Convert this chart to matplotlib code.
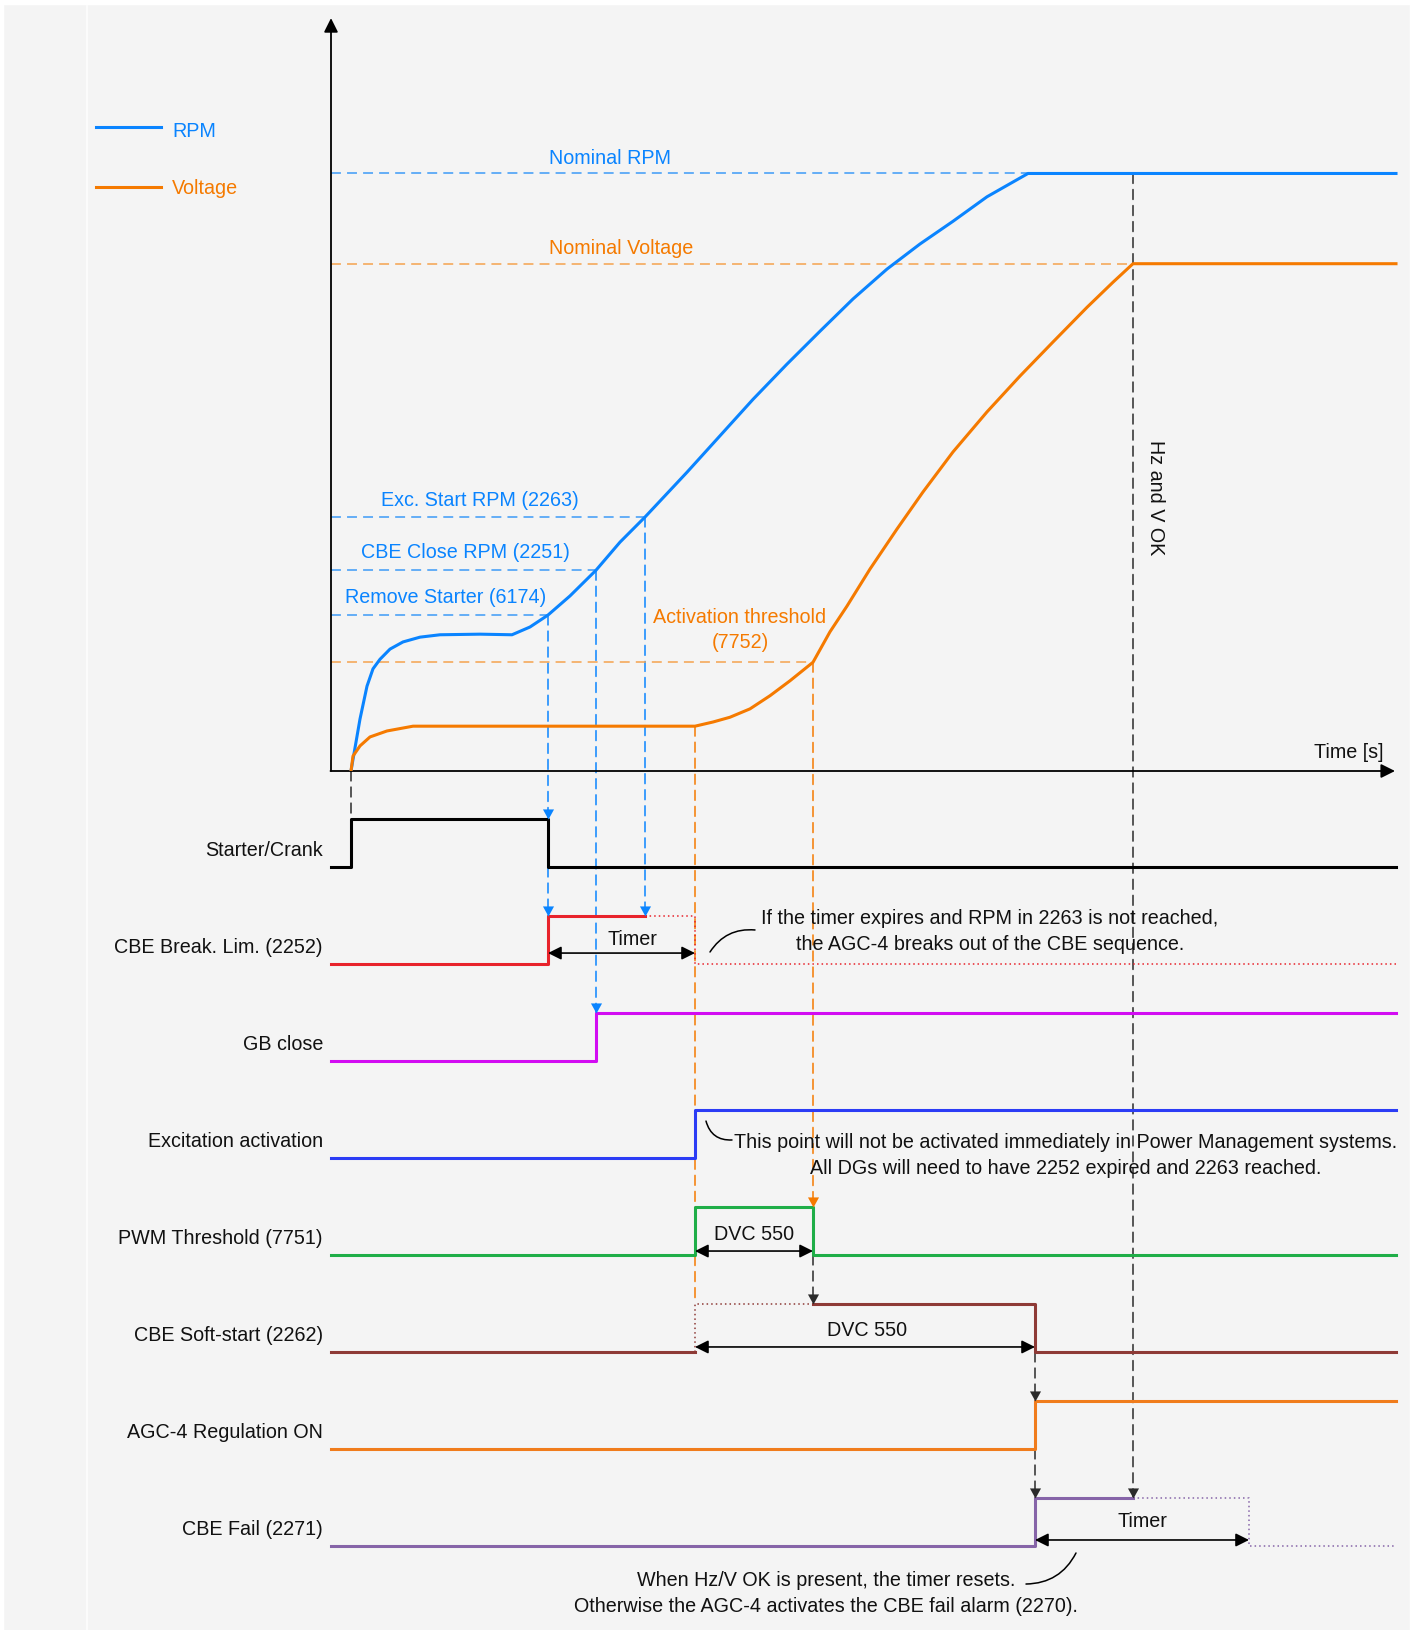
"""Engine start sequence timing diagram (CBE start)."""

import matplotlib

matplotlib.use("Agg")

import matplotlib.pyplot as plt
from matplotlib.lines import Line2D
from matplotlib.patches import ConnectionPatch, Rectangle
from matplotlib.path import Path

plt.rcParams["font.family"] = ["Liberation Sans", "DejaVu Sans"]

# event times on the schematic time axis
T_AXIS = -2.0
T_START = 0.0
T_REMOVE_STARTER = 19.7
T_CBE_CLOSE = 24.5
T_EXC_START = 29.4
T_EXC_ON = 34.4
T_ACT_THRESHOLD = 46.2
T_RPM_NOMINAL = 67.7
T_SOFTSTART_END = 68.4
T_HZV_OK = 78.2
T_FAIL_TIMEOUT = 89.8
T_END = 104.5

# levels in the upper chart (nominal RPM = 100)
NOMINAL_RPM = 100.0
NOMINAL_VOLTAGE = 84.9
EXC_START_RPM = 42.5
CBE_CLOSE_RPM = 33.6
REMOVE_STARTER_RPM = 26.1
ACT_THRESHOLD_V = 18.2
VOLT_PLATEAU = 7.5

rpm_t = [0, 0.9, 1.6, 2.2, 2.9, 3.9, 5.2, 6.9, 8.9, 12.9, 16.1, 17.9, 19.7, 21.9,
         24.5, 26.9, 29.4, 33.6, 36.9, 40.2, 43.6, 46.9, 50.2, 53.6, 56.9, 60.2,
         63.6, 67.7, 104.5]
rpm_v = [0, 8.7, 14.2, 17.1, 18.7, 20.4, 21.6, 22.4, 22.8, 22.9, 22.8, 24.1, 26.1, 29.3,
         33.6, 38.3, 42.5, 50.0, 56.1, 62.2, 68.1, 73.6, 79.0, 84.0, 88.2, 92.0,
         96.1, 100, 100]

volt_t = [0, 0.2, 0.9, 1.9, 3.6, 6.2, 34.4, 36.2, 37.9, 39.9, 41.9, 43.9, 46.2,
          47.9, 49.6, 51.9, 54.6, 57.2, 60.2, 63.6, 66.9, 70.2, 73.6, 76.2, 78.2, 104.5]
volt_v = [0, 2.5, 4.2, 5.7, 6.7, 7.5, 7.5, 8.2, 9.0, 10.4, 12.6, 15.1, 18.2,
          23.3, 27.6, 33.8, 40.5, 46.7, 53.4, 60.1, 66.1, 71.8, 77.6, 81.8, 84.9, 84.9]

row_labels = ["Starter/Crank", "CBE Break. Lim. (2252)", "GB close",
              "Excitation activation", "PWM Threshold (7751)",
              "CBE Soft-start (2262)", "AGC-4 Regulation ON", "CBE Fail (2271)"]
row_colors = ["#000000", "#e8232b", "#d20cf2", "#2b3cf5", "#1fae48",
              "#8e3a36", "#f07c1c", "#8664a8"]

# digital signals: (times, states) drawn as steps, solid then dotted parts
solid_signals = [
    ([T_AXIS, T_START, T_REMOVE_STARTER, T_END], [0, 1, 0, 0]),
    ([T_AXIS, T_REMOVE_STARTER, T_EXC_START], [0, 1, 1]),
    ([T_AXIS, T_CBE_CLOSE, T_END], [0, 1, 1]),
    ([T_AXIS, T_EXC_ON, T_END], [0, 1, 1]),
    ([T_AXIS, T_EXC_ON, T_ACT_THRESHOLD, T_END], [0, 1, 0, 0]),
    ([T_AXIS, T_EXC_ON], [0, 0]),
    ([T_AXIS, T_SOFTSTART_END, T_END], [0, 1, 1]),
    ([T_AXIS, T_SOFTSTART_END, T_HZV_OK], [0, 1, 1]),
]
extra_solid = {5: ([T_ACT_THRESHOLD, T_SOFTSTART_END, T_END], [1, 0, 0])}
dotted_signals = {
    1: ([T_EXC_START, T_EXC_ON, T_END], [1, 0, 0]),
    5: ([T_EXC_ON, T_EXC_ON, T_ACT_THRESHOLD], [0, 1, 1]),
    7: ([T_HZV_OK, T_FAIL_TIMEOUT, T_END], [1, 0, 0]),
}

HIGH = 0.5
BLUE = "#0a84ff"
BLUE_DASH = "#3d9bf7"
ORANGE = "#f57a00"
ORANGE_DASH = "#f5a24e"
DASH = (0, (6.5, 4))
FS = 14.2
TEXT = "#111111"

ARROW_HEAD = Path([(-0.55, 1.0), (0.55, 1.0), (0.0, 0.0), (-0.55, 1.0)],
                  [Path.MOVETO, Path.LINETO, Path.LINETO, Path.CLOSEPOLY])


def row_low(i):
    return -i


def row_high(i):
    return -i + HIGH


def connector(fig, ax_from, ax_to, t, y_from, y_to, color, arrow=True):
    con = ConnectionPatch(xyA=(t, y_from), coordsA="data", axesA=ax_from,
                          xyB=(t, y_to), coordsB="data", axesB=ax_to,
                          color=color, lw=1.1, linestyle=DASH, zorder=-1)
    fig.add_artist(con)
    if arrow:
        ax_to.plot([t], [y_to], marker=ARROW_HEAD, ms=14.5, color=color,
                   mew=0, linestyle="none", zorder=5, clip_on=False)


def span_arrow(ax, t0, t1, y):
    ax.annotate("", xy=(t1, y), xytext=(t0, y),
                arrowprops=dict(arrowstyle="<|-|>", color="black", lw=1.2,
                                shrinkA=0, shrinkB=0, mutation_scale=20))


def leader(ax, a, b, rad):
    ax.annotate("", xy=b, xytext=a,
                arrowprops=dict(arrowstyle="-", color="black", lw=1.1,
                                shrinkA=0, shrinkB=0,
                                connectionstyle="arc3,rad={}".format(rad)))


def note(ax, t, y, text):
    ax.text(t, y, text, ha="center", va="baseline", multialignment="center",
            fontsize=FS, color=TEXT, linespacing=1.45)


def main():
    fig = plt.figure(figsize=(14.14, 16.31), dpi=100, facecolor="#f4f4f4")
    split = (1631 - 772) / 1631
    ax_top = fig.add_axes([0, split, 1, 1 - split])
    ax_bot = fig.add_axes([0, 0, 1, split])
    for ax in (ax_top, ax_bot):
        ax.set_xlim(-35.1, 106.3)
        ax.set_facecolor("none")
        ax.axis("off")
    ax_top.set_ylim(0, 129.2)
    ax_bot.set_ylim(-7.866, 0.99)

    # page decoration
    fig.add_artist(Line2D([87 / 1414] * 2, [0, 1 - 5 / 1631], transform=fig.transFigure,
                          color="#fbfbfb", lw=1.6, zorder=-2))
    fig.add_artist(Rectangle((0, 1 - 5 / 1631), 1, 5 / 1631, transform=fig.transFigure,
                             color="white", zorder=-2))
    fig.add_artist(Rectangle((0, 0), 3 / 1414, 1, transform=fig.transFigure,
                             color="white", zorder=-2))
    fig.add_artist(Rectangle((1 - 4 / 1414, 0), 4 / 1414, 1, transform=fig.transFigure,
                             color="white", zorder=-2))

    # axes arrows
    ax_top.annotate("", xy=(T_AXIS, 126.0), xytext=(T_AXIS, 0),
                    arrowprops=dict(arrowstyle="-|>", color="black", lw=1.3,
                                    shrinkA=0, shrinkB=0, mutation_scale=21))
    ax_top.annotate("", xy=(104.4, 0), xytext=(T_AXIS - 0.05, 0),
                    arrowprops=dict(arrowstyle="-|>", color="black", lw=1.3,
                                    shrinkA=0, shrinkB=0, mutation_scale=21))
    ax_top.text(103.2, 2.3, "Time [s]", ha="right", va="baseline", fontsize=FS, color=TEXT)

    # threshold lines and labels
    thresholds = [
        (NOMINAL_RPM, T_RPM_NOMINAL, BLUE_DASH, "Nominal RPM", 25.9, 7.9, BLUE),
        (NOMINAL_VOLTAGE, T_HZV_OK, ORANGE_DASH, "Nominal Voltage", 27.0, 7.9, ORANGE),
        (EXC_START_RPM, T_EXC_START, BLUE_DASH, "Exc. Start RPM (2263)", 12.9, 8.6, BLUE),
        (CBE_CLOSE_RPM, T_CBE_CLOSE, BLUE_DASH, "CBE Close RPM (2251)", 11.4, 9.4, BLUE),
        (REMOVE_STARTER_RPM, T_REMOVE_STARTER, BLUE_DASH, "Remove Starter (6174)", 9.5, 9.4, BLUE),
        (ACT_THRESHOLD_V, T_ACT_THRESHOLD, ORANGE_DASH, "Activation threshold\n(7752)", 38.9, 10.8, ORANGE),
    ]
    for level, t_cross, dcolor, label, t_label, off, tcolor in thresholds:
        ax_top.plot([T_AXIS, t_cross], [level, level], color=dcolor, lw=1.1,
                    linestyle=DASH, zorder=1)
        ax_top.annotate(label, xy=(t_label, level), xytext=(0, off),
                        textcoords="offset points", ha="center", va="baseline",
                        multialignment="center", fontsize=FS, color=tcolor,
                        linespacing=1.45)

    ax_top.plot(rpm_t, rpm_v, color=BLUE, lw=2.2, zorder=3, solid_joinstyle="round")
    ax_top.plot(volt_t, volt_v, color=ORANGE, lw=2.2, zorder=3, solid_joinstyle="round")

    ax_top.text(80.4, 46.0, "Hz and V OK", rotation=270, ha="center", va="center",
                fontsize=FS, color=TEXT)

    # legend
    ax_top.plot([-25.5, -19.0], [107.8, 107.8], color=BLUE, lw=2.2)
    ax_top.plot([-25.5, -19.0], [97.7, 97.7], color=ORANGE, lw=2.2)
    ax_top.text(-17.9, 106.3, "RPM", color=BLUE, fontsize=FS, va="baseline")
    ax_top.text(-17.9, 96.7, "Voltage", color=ORANGE, fontsize=FS, va="baseline")

    # digital signal rows
    for i, (label, color) in enumerate(zip(row_labels, row_colors)):
        t, s = solid_signals[i]
        ax_bot.step(t, [row_low(i) + HIGH * v for v in s], where="post",
                    color=color, lw=2.2, zorder=3)
        if i in extra_solid:
            t, s = extra_solid[i]
            ax_bot.step(t, [row_low(i) + HIGH * v for v in s], where="post",
                        color=color, lw=2.2, zorder=3)
        if i in dotted_signals:
            t, s = dotted_signals[i]
            ax_bot.step(t, [row_low(i) + HIGH * v for v in s], where="post",
                        color=color, lw=1.1, linestyle=(0, (1, 2)), zorder=3)
        ax_bot.text(-2.8, row_low(i) + 0.124, label, ha="right", va="baseline",
                    fontsize=FS, color=TEXT)

    # vertical dashed links
    black = "#2b2b2b"
    connector(fig, ax_top, ax_bot, T_START, 0, row_high(0), black, arrow=False)
    connector(fig, ax_top, ax_bot, T_REMOVE_STARTER, REMOVE_STARTER_RPM, row_high(0), BLUE)
    connector(fig, ax_bot, ax_bot, T_REMOVE_STARTER, row_low(0), row_high(1), BLUE)
    connector(fig, ax_top, ax_bot, T_CBE_CLOSE, CBE_CLOSE_RPM, row_high(2), BLUE)
    connector(fig, ax_top, ax_bot, T_EXC_START, EXC_START_RPM, row_high(1), BLUE)
    connector(fig, ax_top, ax_bot, T_EXC_ON, VOLT_PLATEAU, row_high(5), ORANGE, arrow=False)
    connector(fig, ax_top, ax_bot, T_ACT_THRESHOLD, ACT_THRESHOLD_V, row_high(4), ORANGE)
    connector(fig, ax_bot, ax_bot, T_ACT_THRESHOLD, row_low(4), row_high(5), black)
    connector(fig, ax_bot, ax_bot, T_SOFTSTART_END, row_low(5), row_high(6), black)
    connector(fig, ax_bot, ax_bot, T_SOFTSTART_END, row_low(6), row_high(7), black)
    connector(fig, ax_top, ax_bot, T_HZV_OK, NOMINAL_RPM, row_high(7), black)

    # durations
    span_arrow(ax_bot, T_REMOVE_STARTER, T_EXC_ON, -0.887)
    ax_bot.text(28.1, -0.794, "Timer", ha="center", va="baseline", fontsize=FS, color=TEXT)
    span_arrow(ax_bot, T_EXC_ON, T_ACT_THRESHOLD, -3.959)
    ax_bot.text(40.3, -3.835, "DVC 550", ha="center", va="baseline", fontsize=FS, color=TEXT)
    span_arrow(ax_bot, T_EXC_ON, T_SOFTSTART_END, -4.948)
    ax_bot.text(51.6, -4.825, "DVC 550", ha="center", va="baseline", fontsize=FS, color=TEXT)
    span_arrow(ax_bot, T_SOFTSTART_END, T_FAIL_TIMEOUT, -6.938)
    ax_bot.text(79.1, -6.794, "Timer", ha="center", va="baseline", fontsize=FS, color=TEXT)

    # notes
    note(ax_bot, 63.9, -0.845,
         "If the timer expires and RPM in 2263 is not reached,\n"
         "the AGC-4 breaks out of the CBE sequence.")
    leader(ax_bot, (35.9, -0.876), (40.4, -0.649), -0.3)

    note(ax_bot, 71.5, -3.155,
         "This point will not be activated immediately in Power Management systems.\n"
         "All DGs will need to have 2252 expired and 2263 reached.")
    leader(ax_bot, (35.5, -2.619), (38.1, -2.814), 0.4)

    note(ax_bot, 47.5, -7.67,
         "When Hz/V OK is present, the timer resets.\n"
         "Otherwise the AGC-4 activates the CBE fail alarm (2270).")
    leader(ax_bot, (67.5, -7.392), (72.5, -7.072), 0.3)

    fig.savefig("out.png", dpi=100, facecolor=fig.get_facecolor())
    plt.close(fig)


if __name__ == "__main__":
    main()
